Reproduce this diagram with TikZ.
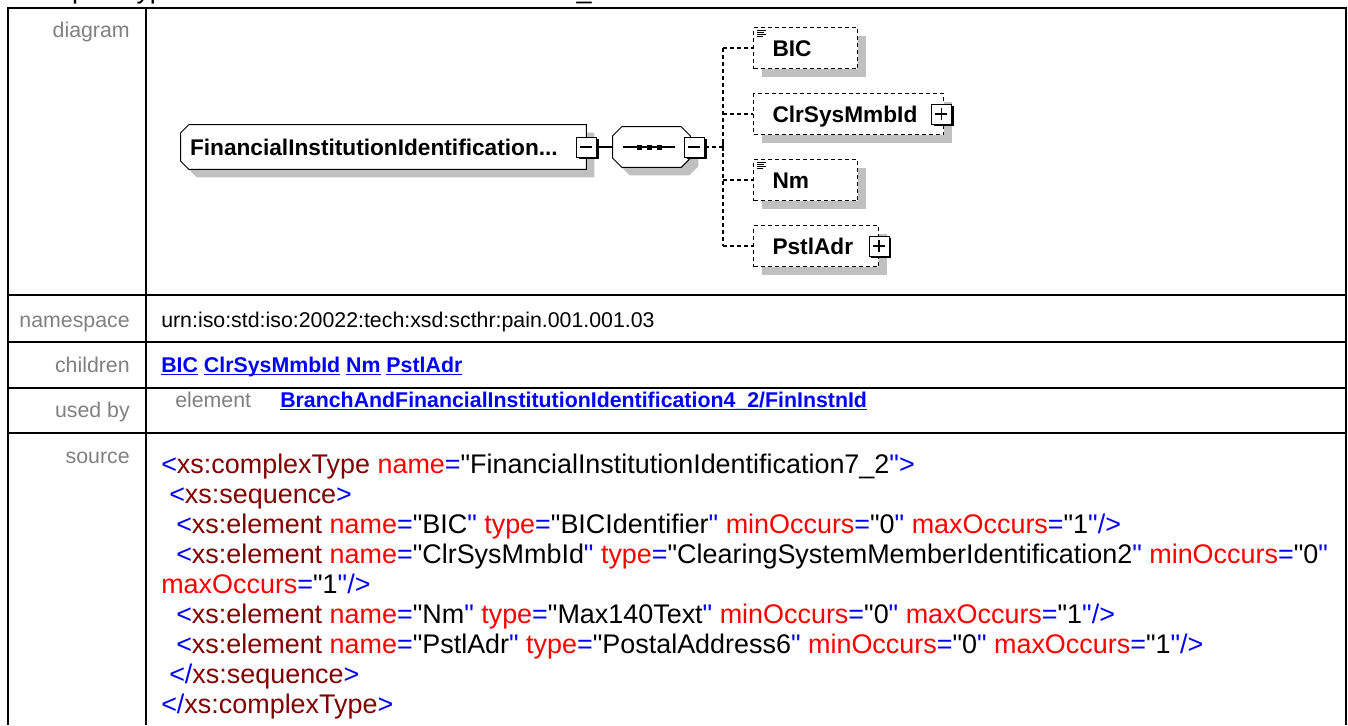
\documentclass[tikz,border=0pt]{standalone}
\usepackage{fontspec}
\setmainfont{Liberation Sans}[Ligatures=TeXOff]
\usetikzlibrary{positioning, shadows, backgrounds}
\definecolor{xmlsym}{RGB}{0,0,255}
\definecolor{xmltag}{RGB}{128,0,0}
\definecolor{xmlattr}{RGB}{255,0,0}
\definecolor{labelgray}{RGB}{128,128,128}
\definecolor{shadowgray}{RGB}{192,192,192}
\definecolor{linkblue}{RGB}{0,0,255}
\newcommand{\qt}{\symbol{34}}
\newcommand{\xsym}[1]{\textcolor{xmlsym}{#1}}
\newcommand{\xtag}[1]{\textcolor{xmltag}{#1}}
\newcommand{\xatt}[2]{\textcolor{xmlattr}{#1}\xsym{=}\qt#2\xsym{\qt}}
\newcommand{\lnkul}[1]{\setbox0\hbox{#1}\rlap{\vrule width\wd0 height -1.4pt depth 2.5pt}\box0\relax}

\begin{document}
\begin{tikzpicture}[x=0.75pt, y=-0.75pt,
    tbl/.style={line width=1.5pt},
    lbl/.style={font=\fontsize{16}{19}\selectfont, text=labelgray, anchor=base east, inner sep=0pt},
    val/.style={font=\fontsize{16}{19}\selectfont, anchor=base west, inner sep=0pt},
    lnk/.style={font=\fontsize{16}{19}\selectfont\bfseries, text=linkblue, anchor=base west, inner sep=0pt},
    src/.style={font=\fontsize{20.2}{24}\selectfont, anchor=base west, inner sep=0pt},
    elembox/.style={font=\fontsize{17}{20}\selectfont\bfseries, align=left, inner ysep=0pt,
        inner xsep=14.25pt, text height=12.2pt, text depth=0pt, minimum height=30.75pt},
    optbox/.style={elembox, draw, fill=white, line width=0.75pt, dash pattern=on 3pt off 2.25pt,
        drop shadow={shadow xshift=6pt, shadow yshift=-6pt, fill=shadowgray, opacity=1}},
    togglebox/.style={draw, fill=white, line width=0.75pt, minimum size=15pt, inner sep=0pt,
        drop shadow={shadow xshift=1.8pt, shadow yshift=-1.8pt, fill=black, opacity=1}},
    collapsebox/.style={togglebox, path picture={
        \draw[line width=0.9pt] ([xshift=-4.5pt]path picture bounding box.center)
            -- ([xshift=4.5pt]path picture bounding box.center);}},
    expandbox/.style={togglebox, path picture={
        \draw[line width=0.9pt] ([xshift=-4.5pt]path picture bounding box.center)
            -- ([xshift=4.5pt]path picture bounding box.center);
        \draw[line width=0.9pt] ([yshift=-4.5pt]path picture bounding box.center)
            -- ([yshift=4.5pt]path picture bounding box.center);}},
    conn/.style={line width=0.9pt},
    dashconn/.style={conn, dash pattern=on 3pt off 2.25pt}]
  \useasboundingbox (0,0) rectangle (1348,725);

  % heading, cut off by the page top
  \node[src] (head) at (21,-2) {complexType FinancialInstitutionIdentification7\_2};

  % table frame
  \draw[tbl] (8,725) -- (8,8) -- (1346,8) -- (1346,725);
  \draw[tbl] (146,8) -- (146,725);
  \foreach \y in {295,342,388,433}
    \draw[tbl] (8,\y) -- (1346,\y);

  % row labels
  \node[lbl] (ldiag) at (130,37)  {diagram};
  \node[lbl] (lns)   at (130,327) {namespace};
  \node[lbl] (lch)   at (130,372) {children};
  \node[lbl] (lused) at (130,417) {used by};
  \node[lbl] (lsrc)  at (130,463) {source};

  % diagram
  \node[elembox, minimum width=303.75pt, text width=290.25pt, inner xsep=6.75pt,
        minimum height=33pt] (fii) at (383.5,147) {FinancialInstitutionIdentification...};
  \node[minimum width=57.75pt, minimum height=30pt, inner sep=0pt] (seq) at (651.5,147) {};
  \node[collapsebox] (fiimin) at (fii.east) {};
  \node[collapsebox] (seqmin) at ([xshift=3pt]seq.east) {};
  \coordinate (bus) at (723,147);

  \node[optbox, anchor=north west, minimum width=78pt,    text width=49.5pt]  (bic)  at (753,27)  {BIC};
  \node[optbox, anchor=north west, minimum width=142.5pt, text width=114pt]   (clr)  at (753,93)  {ClrSysMmbId};
  \node[optbox, anchor=north west, minimum width=78pt,    text width=49.5pt]  (nm)   at (753,159) {Nm};
  \node[optbox, anchor=north west, minimum width=93.75pt, text width=65.25pt] (pstl) at (753,225) {PstlAdr};
  \node[expandbox] (clrplus)  at ([xshift=-2pt]clr.east)  {};
  \node[expandbox] (pstlplus) at (pstl.east) {};

  \begin{scope}[on background layer]
    \begin{scope}[transform canvas={shift={(6pt,-6pt)}}]
      \fill[shadowgray] ([shift={(8,0)}]fii.north west) -- (fii.north east) -- (fii.south east)
        -- ([shift={(8,0)}]fii.south west) -- ([shift={(0,-8)}]fii.south west)
        -- ([shift={(0,8)}]fii.north west) -- cycle;
      \fill[shadowgray] ([shift={(9,0)}]seq.north west) -- ([shift={(-9,0)}]seq.north east)
        -- ([shift={(0,9)}]seq.north east) -- ([shift={(0,-9)}]seq.south east)
        -- ([shift={(-9,0)}]seq.south east) -- ([shift={(9,0)}]seq.south west)
        -- ([shift={(0,-9)}]seq.south west) -- ([shift={(0,9)}]seq.north west) -- cycle;
    \end{scope}
    \filldraw[fill=white, line width=0.75pt] ([shift={(8,0)}]fii.north west) -- (fii.north east)
      -- (fii.south east) -- ([shift={(8,0)}]fii.south west) -- ([shift={(0,-8)}]fii.south west)
      -- ([shift={(0,8)}]fii.north west) -- cycle;
    \filldraw[fill=white, line width=0.75pt] ([shift={(9,0)}]seq.north west) -- ([shift={(-9,0)}]seq.north east)
      -- ([shift={(0,9)}]seq.north east) -- ([shift={(0,-9)}]seq.south east)
      -- ([shift={(-9,0)}]seq.south east) -- ([shift={(9,0)}]seq.south west)
      -- ([shift={(0,-9)}]seq.south west) -- ([shift={(0,9)}]seq.north west) -- cycle;
  \end{scope}

  % sequence symbol
  \draw[conn] (623,147) -- (675,147);
  \foreach \dx in {-10,0,10}
    \fill (649+\dx-2.5,144.5) rectangle ++(5,5);

  % simple content icons
  \foreach \n in {bic,nm}
    \foreach \dy/\len in {3/9,5/7,7/9,9/6}
      \draw[line width=0.6pt] ([shift={(4,\dy)}]\n.north west) -- ++(\len,0);

  % connectors
  \draw[conn] (fiimin.east) -- (seq.west);
  \draw[dashconn] (seqmin.east) -- (bus);
  \draw[conn] ([shift={(0,-4)}]bus) -- ([shift={(0,4)}]bus);
  \draw[dashconn] (bus |- bic.west) -- (bus |- pstl.west);
  \foreach \c in {bic,clr,nm,pstl}
    \draw[dashconn] (bus |- \c.west) -- (\c.west);

  % values
  \node[val] (vns) at (161,327) {urn:iso:std:iso:20022:tech:xsd:scthr:pain.001.001.03};
  \node[lnk] (vch) at (161,372) {\lnkul{BIC} \lnkul{ClrSysMmbId} \lnkul{Nm} \lnkul{PstlAdr}};
  \node[val, text=labelgray] (vel) at (175,407) {element};
  \node[lnk] (vused) at (280,407) {\lnkul{BranchAndFinancialInstitutionIdentification4\_2/FinInstnId}};

  % source
  \node[src] (s1) at (161,473) {\xsym{<}\xtag{xs:complexType} \xatt{name}{FinancialInstitutionIdentification7\_2}\xsym{>}};
  \node[src] (s2) at (169,503) {\xsym{<}\xtag{xs:sequence}\xsym{>}};
  \node[src] (s3) at (176,533) {\xsym{<}\xtag{xs:element} \xatt{name}{BIC} \xatt{type}{BICIdentifier} \xatt{minOccurs}{0} \xatt{maxOccurs}{1}\xsym{/>}};
  \node[src] (s4) at (176,563) {\xsym{<}\xtag{xs:element} \xatt{name}{ClrSysMmbId} \xatt{type}{ClearingSystemMemberIdentification2} \xatt{minOccurs}{0}};
  \node[src] (s5) at (161,593) {\xatt{maxOccurs}{1}\xsym{/>}};
  \node[src] (s6) at (176,623) {\xsym{<}\xtag{xs:element} \xatt{name}{Nm} \xatt{type}{Max140Text} \xatt{minOccurs}{0} \xatt{maxOccurs}{1}\xsym{/>}};
  \node[src] (s7) at (176,653) {\xsym{<}\xtag{xs:element} \xatt{name}{PstlAdr} \xatt{type}{PostalAddress6} \xatt{minOccurs}{0} \xatt{maxOccurs}{1}\xsym{/>}};
  \node[src] (s8) at (169,683) {\xsym{</}\xtag{xs:sequence}\xsym{>}};
  \node[src] (s9) at (161,713) {\xsym{</}\xtag{xs:complexType}\xsym{>}};
\end{tikzpicture}
\end{document}
